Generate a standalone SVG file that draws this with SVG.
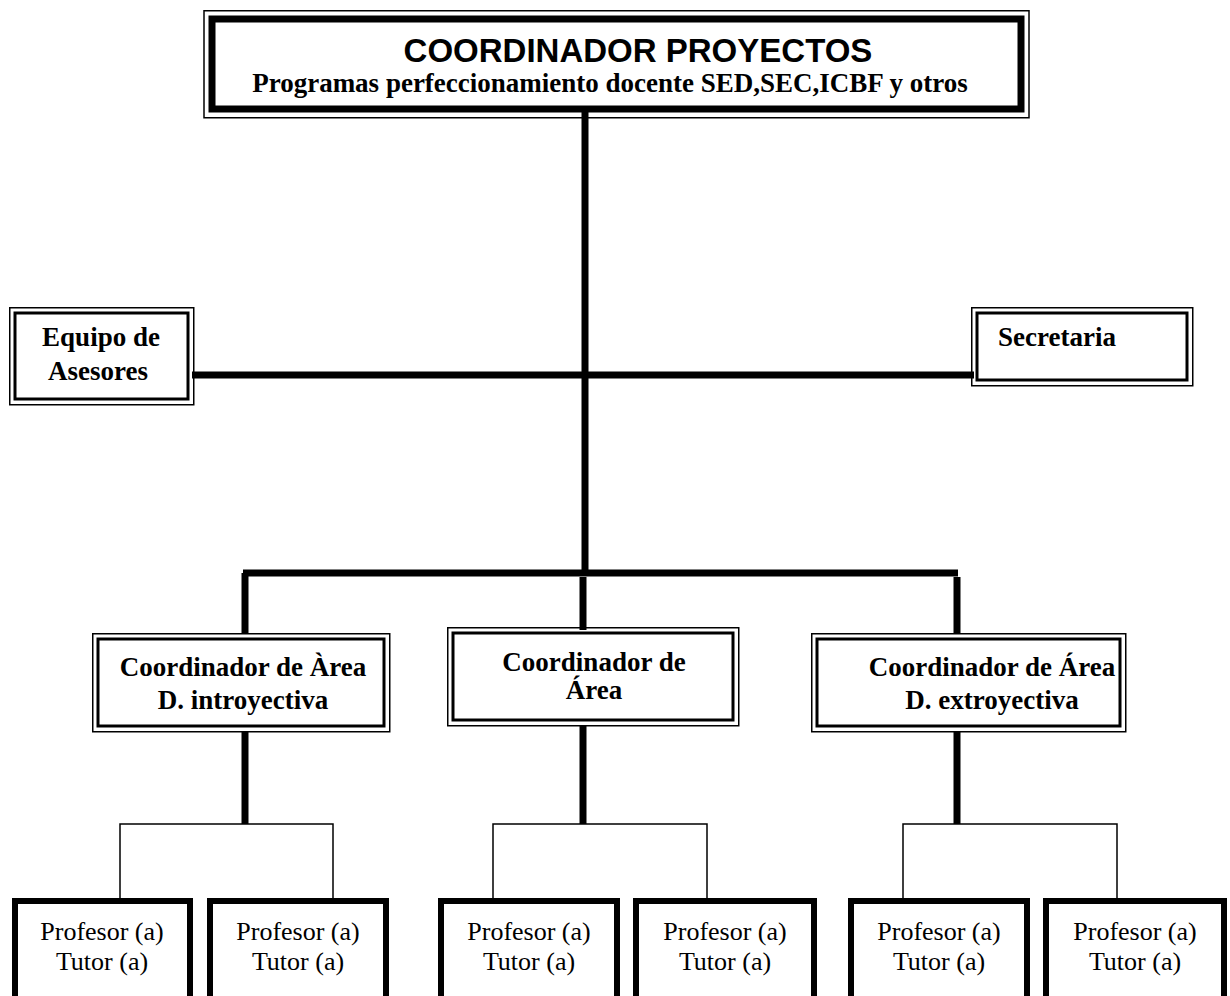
<svg xmlns="http://www.w3.org/2000/svg" width="1230" height="996" viewBox="0 0 1230 996">
<style>
.thin{fill:none;stroke:#000;stroke-width:1.5}
.thick{fill:none;stroke:#000;stroke-width:7}
.mid{fill:none;stroke:#000;stroke-width:3}
.prof{fill:#fff;stroke:#000;stroke-width:6}
.conn{stroke:#000;stroke-width:7;fill:none}
.conn2{stroke:#000;stroke-width:1.5;fill:none}
.tb{font-family:"Liberation Serif","Times New Roman",serif;font-weight:bold;font-size:27px;text-anchor:middle}
.tr{font-family:"Liberation Serif","Times New Roman",serif;font-size:26px;text-anchor:middle}
.ta{font-family:"Liberation Sans",Arial,sans-serif;font-weight:bold;font-size:33px;text-anchor:middle}
</style>
<rect width="1230" height="996" fill="#fff"/>
<g id="connectors">
<line class="conn" x1="585" y1="108" x2="585" y2="576"/>
<line class="conn" x1="192" y1="375" x2="974" y2="375"/>
<line class="conn" x1="243" y1="573" x2="958" y2="573"/>
<line class="conn" x1="245" y1="573" x2="245" y2="634"/>
<line class="conn" x1="583" y1="577" x2="583" y2="630"/>
<line class="conn" x1="957" y1="577" x2="957" y2="634"/>
<line class="conn" x1="245" y1="731" x2="245" y2="824"/>
<line class="conn" x1="583" y1="726" x2="583" y2="824"/>
<line class="conn" x1="957" y1="731" x2="957" y2="824"/>
<polyline class="conn2" points="120,898 120,824 333,824 333,898"/>
<polyline class="conn2" points="493,898 493,824 707,824 707,898"/>
<polyline class="conn2" points="903,898 903,824 1117,824 1117,898"/>
</g>
<g id="coordinador">
<rect class="thin" x="204" y="10.75" width="825" height="107"/>
<rect fill="#fff" x="212" y="19" width="809" height="90"/>
<rect class="thick" x="212" y="19" width="809" height="90"/>
<text class="ta" x="638" y="62">COORDINADOR PROYECTOS</text>
<text class="tb" x="610" y="92">Programas perfeccionamiento docente SED,SEC,ICBF y otros</text>
</g>
<g id="equipo">
<rect class="thin" x="9.75" y="307.75" width="184" height="97"/>
<rect fill="#fff" class="mid" x="15" y="313" width="173" height="86"/>
<text class="tb" x="101" y="346">Equipo de</text>
<text class="tb" x="98" y="380">Asesores</text>
</g>
<g id="secretaria">
<rect class="thin" x="971.75" y="307.75" width="221" height="78"/>
<rect fill="#fff" class="mid" x="977" y="313" width="210" height="67"/>
<text class="tb" x="998" y="346" style="text-anchor:start">Secretaria</text>
</g>
<g id="area1">
<rect class="thin" x="92.75" y="633.75" width="297" height="98"/>
<rect fill="#fff" class="mid" x="98" y="639" width="286" height="87"/>
<text class="tb" x="243" y="676">Coordinador de Àrea</text>
<text class="tb" x="243" y="709">D. introyectiva</text>
</g>
<g id="area2">
<rect class="thin" x="447.75" y="627.75" width="291" height="98"/>
<rect fill="#fff" class="mid" x="453" y="633" width="280" height="87"/>
<text class="tb" x="594" y="671">Coordinador de</text>
<text class="tb" x="594" y="699">Área</text>
</g>
<g id="area3">
<rect class="thin" x="811.75" y="633.75" width="314" height="98"/>
<rect fill="#fff" class="mid" x="817" y="639" width="303" height="87"/>
<text class="tb" x="992" y="676">Coordinador de Área</text>
<text class="tb" x="992" y="709">D. extroyectiva</text>
</g>
<g id="prof1">
<rect class="prof" x="15" y="901" width="175" height="110"/>
<text class="tr" x="102" y="940">Profesor (a)</text>
<text class="tr" x="102" y="970">Tutor (a)</text>
</g>
<g id="prof2">
<rect class="prof" x="210" y="901" width="176" height="110"/>
<text class="tr" x="298" y="940">Profesor (a)</text>
<text class="tr" x="298" y="970">Tutor (a)</text>
</g>
<g id="prof3">
<rect class="prof" x="441" y="901" width="176" height="110"/>
<text class="tr" x="529" y="940">Profesor (a)</text>
<text class="tr" x="529" y="970">Tutor (a)</text>
</g>
<g id="prof4">
<rect class="prof" x="636" y="901" width="178" height="110"/>
<text class="tr" x="725" y="940">Profesor (a)</text>
<text class="tr" x="725" y="970">Tutor (a)</text>
</g>
<g id="prof5">
<rect class="prof" x="851" y="901" width="176" height="110"/>
<text class="tr" x="939" y="940">Profesor (a)</text>
<text class="tr" x="939" y="970">Tutor (a)</text>
</g>
<g id="prof6">
<rect class="prof" x="1046" y="901" width="178" height="110"/>
<text class="tr" x="1135" y="940">Profesor (a)</text>
<text class="tr" x="1135" y="970">Tutor (a)</text>
</g>
</svg>
